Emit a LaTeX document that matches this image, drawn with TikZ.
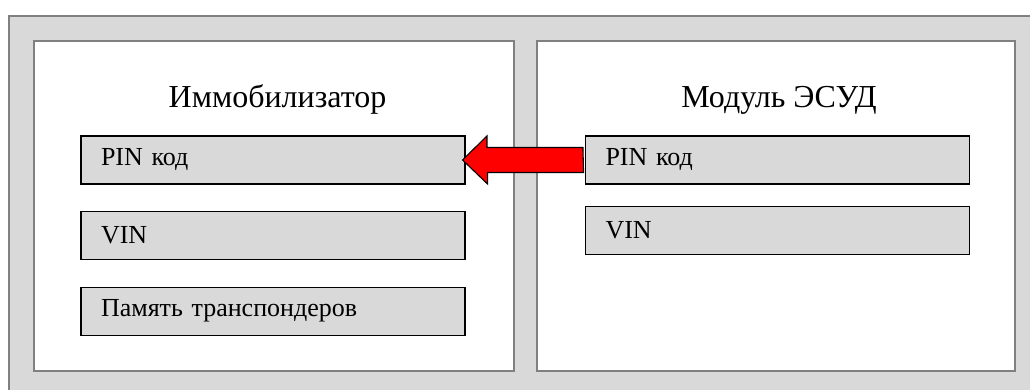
\documentclass[tikz,border=0pt]{standalone}
\usepackage{fontspec}
\setmainfont{Liberation Serif}
\usepackage{tikz}
\usetikzlibrary{positioning}
\usetikzlibrary{calc}
\definecolor{boxgray}{RGB}{217,217,217}
\definecolor{edgegray}{RGB}{128,128,128}
\definecolor{arrowred}{RGB}{255,0,0}

\begin{document}
\begin{tikzpicture}[x=1pt,y=1pt,
  panel/.style={draw=edgegray,line width=2pt,fill=white,minimum width=480pt,minimum height=330pt,inner sep=0pt},
  ptitle/.style={font=\fontsize{32}{38}\selectfont,inner sep=0pt},
  field/.style={draw=black,line width=1.1pt,fill=boxgray,minimum height=48pt,text width=344pt,inner xsep=20pt,inner ysep=0pt,align=left,font=\fontsize{26}{30}\selectfont},
  bigarrow/.style={draw=black,line width=1.1pt,fill=arrowred,line join=miter}]

  % frame behind everything, cut by the page
  \useasboundingbox (0,0) rectangle (1030,390);
  \clip (0,0) rectangle (1030,390);
  \draw[draw=edgegray,line width=2pt,fill=boxgray] (9,374) rectangle (1050,-20);

  % Two units side by side
  \node[panel] (lpanel) at (274,184) {};
  \node[panel, minimum width=478pt] (rpanel) at (776,184) {};
  \node[ptitle, anchor=base] (ltitle) at (277.5,282) {Иммобилизатор};
  \node[ptitle, anchor=base] (rtitle) at (779,282) {Модуль ЭСУД};

  % Stored data of the immobilizer
  \node[field] (lpin) at (273,230) {PIN код};
  \node[field, below=26pt of lpin] (lvin) {VIN};
  \node[field, below=27pt of lvin] (lmem) {Память транспондеров};

  % Stored data of the engine unit
  \node[field] (rpin) at (777.5,230) {PIN код};
  \node[field, below=21pt of rpin] (rvin) {VIN};

  \draw[bigarrow] ($(rpin.west)+(-2,12.5)$) -- ++(-96,0) -- ++(0,11.5)
    -- ($(lpin.east)+(-3,0)$) -- ++(25,-24) -- ++(0,11.5) -- ++(96,0) -- cycle;
\end{tikzpicture}
\end{document}
